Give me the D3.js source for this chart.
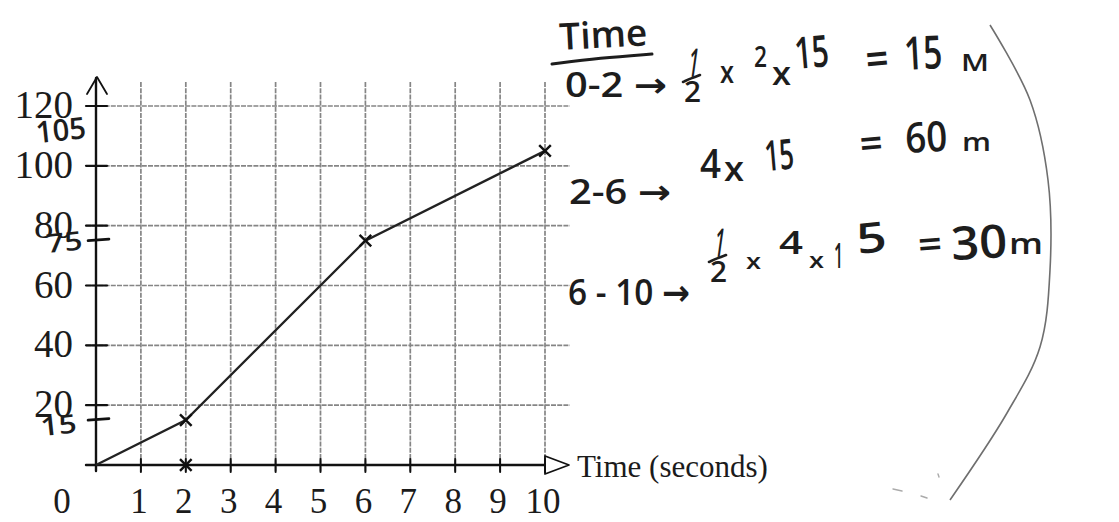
<!DOCTYPE html>
<html>
<head>
<meta charset="utf-8">
<script src="https://cdn.jsdelivr.net/npm/d3@7"></script>
<style>
  html, body { margin: 0; padding: 0; background: #ffffff; }
  svg { display: block; }
  .print { font-family: "Liberation Serif", "Times New Roman", serif; fill: #1b1b1b; }
  .hand  { font-family: "Open Sans", "DejaVu Sans", sans-serif; fill: #1d1d1d; font-weight: 600; }
</style>
</head>
<body>
<svg id="chart" width="1119" height="522"></svg>
<script>
// Distance–time graph: plotted points and axis ticks
const times = [0, 2, 6, 10];            // seconds
const distances = [0, 15, 75, 105];     // metres
const xTickValues = [0, 1, 2, 3, 4, 5, 6, 7, 8, 9, 10];
const yTickValues = [20, 40, 60, 80, 100, 120];
const markedDistances = [15, 75, 105];  // values written beside the y axis
const xAxisLabel = "Time (seconds)";

const svg = d3.select("#chart");

const x = d3.scaleLinear().domain([0, 10]).range([96, 545]);
const y = d3.scaleLinear().domain([0, 120]).range([465, 106]);

// ---- grid ----
const grid = svg.append("g").attr("stroke", "#858585").attr("stroke-width", 1.7)
  .attr("stroke-dasharray", "5 1.2").attr("fill", "none");
grid.selectAll("line.v").data(xTickValues.filter(d => d > 0)).join("line")
  .attr("class", "v")
  .attr("x1", d => x(d)).attr("x2", d => x(d))
  .attr("y1", 82).attr("y2", y(0) + 6);
grid.selectAll("line.h").data(yTickValues).join("line")
  .attr("class", "h")
  .attr("x1", 86).attr("x2", 570)
  .attr("y1", d => y(d)).attr("y2", d => y(d));

// ---- axes ----
const ax = svg.append("g").attr("stroke", "#111").attr("fill", "none")
  .attr("stroke-linecap", "round").attr("stroke-linejoin", "round");
// y axis with open arrow at the top
ax.append("line").attr("x1", x(0)).attr("x2", x(0)).attr("y1", y(0) + 6).attr("y2", 78)
  .attr("stroke-width", 2.4);
ax.append("path").attr("d", d3.line()([[x(0) - 9, 94], [x(0) + 1, 77], [x(0) + 11, 94]]))
  .attr("stroke-width", 1.8);
// x axis with hollow triangle head
ax.append("line").attr("x1", 86).attr("x2", x(10)).attr("y1", y(0)).attr("y2", y(0))
  .attr("stroke-width", 2.4);
ax.append("path").attr("d", d3.line()([[x(10), y(0) - 9], [x(10) + 24, y(0)], [x(10), y(0) + 9]]) + "Z")
  .attr("stroke-width", 1.8).attr("fill", "#fff");

// tick marks
ax.selectAll("line.xt").data(xTickValues.filter(d => d > 0)).join("line")
  .attr("class", "xt").attr("stroke-width", 2)
  .attr("x1", d => x(d)).attr("x2", d => x(d))
  .attr("y1", y(0) - 6).attr("y2", y(0) + 7);
ax.selectAll("line.yt").data(yTickValues).join("line")
  .attr("class", "yt").attr("stroke-width", 2.2)
  .attr("x1", x(0) - 10).attr("x2", x(0) + 11)
  .attr("y1", d => y(d)).attr("y2", d => y(d));
ax.selectAll("line.mt").data(markedDistances.filter(d => d < 100)).join("line")
  .attr("class", "mt").attr("stroke-width", 2.6)
  .attr("x1", x(0) - 8).attr("x2", x(0) + 13)
  .attr("y1", d => y(d)).attr("y2", d => y(d) - 1.5);

// printed tick labels
svg.append("g").selectAll("text").data(yTickValues).join("text")
  .attr("class", "print").attr("font-size", 39)
  .attr("text-anchor", "end")
  .attr("x", 73).attr("y", d => y(d) + 12)
  .text(d => d);
svg.append("g").selectAll("text").data(xTickValues).join("text")
  .attr("class", "print").attr("font-size", 35)
  .attr("text-anchor", "middle")
  .attr("x", d => d === 0 ? 62 : x(d) - 2).attr("y", 513)
  .text(d => d);
svg.append("text").attr("class", "print").attr("font-size", 31)
  .attr("x", 577).attr("y", y(0) + 12).text(xAxisLabel);

// ---- distance line and markers ----
const pts = times.map((t, i) => [x(t), y(distances[i])]);
svg.append("path").attr("d", d3.line()(pts))
  .attr("fill", "none").attr("stroke", "#222").attr("stroke-width", 2.3);

const crossShape = d3.symbol().type(d3.symbolTimes || d3.symbolX).size(90);
const markers = times.map((t, i) => ({ t, d: distances[i] })).filter(p => p.t > 0);
markers.push({ t: times[1], d: 0 });
svg.append("g").selectAll("path").data(markers).join("path")
  .attr("d", crossShape)
  .attr("transform", p => `translate(${x(p.t)},${y(p.d)})`)
  .attr("fill", "none").attr("stroke", "#111").attr("stroke-width", 2.4);

// handwritten values beside the y axis
const handOffset = { 15: 14, 75: 11, 105: -10 };
svg.append("g").selectAll("text").data(markedDistances).join("text")
  .attr("class", "hand").attr("font-size", d => d === 105 ? 30 : 26)
  .attr("font-weight", 700)
  .attr("x", d => d === 105 ? 38 : (d === 75 ? 46 : 40))
  .attr("y", d => y(d) + handOffset[d])
  .attr("textLength", d => d === 105 ? 50 : 36)
  .attr("lengthAdjust", "spacingAndGlyphs")
  .attr("transform", d => `rotate(-6 ${60} ${y(d)})`)
  .text(d => d);

// ---- worked areas under the graph, written on the right ----
const notes = svg.append("g");
function hw(str, x0, base, size, len, rot = 0) {
  notes.append("text").attr("class", "hand")
    .attr("font-size", size)
    .attr("x", x0).attr("y", base)
    .attr("textLength", len).attr("lengthAdjust", "spacingAndGlyphs")
    .attr("transform", rot ? `rotate(${rot} ${x0} ${base})` : null)
    .text(str);
}
function stroke(points, w = 2.4, col = "#1d1d1d") {
  notes.append("path").attr("d", d3.line().curve(d3.curveBasis)(points))
    .attr("fill", "none").attr("stroke", col).attr("stroke-width", w)
    .attr("stroke-linecap", "round");
}
function half(cx, top) {
  hw("1", cx - 5, top + 30, 40, 10, 8);
  stroke([[cx - 9, top + 36], [cx, top + 32], [cx + 8, top + 29]], 2.6);
  hw("2", cx - 8, top + 56, 28, 17);
}

hw("Time", 560, 50, 37, 88, -3);
stroke([[552, 64], [600, 58], [652, 54]], 3);

// 0–2 s
hw("0-2 →", 565, 97, 34, 102);
half(692, 46);
hw("x", 720, 83, 30, 14);
hw("2", 754, 67, 28, 13);
hw("x", 772, 85, 32, 19);
hw("15", 796, 69, 44, 34, -5);
hw("=", 867, 76, 46, 23, -5);
hw("15", 905, 70, 46, 38, -3);
hw("M", 961, 71, 24, 28);

// 2–6 s
hw("2-6 →", 569, 204, 34, 102);
hw("4", 700, 178, 40, 21);
hw("x", 724, 181, 34, 20);
hw("15", 766, 171, 42, 29, -5);
hw("=", 861, 159, 42, 23, -5);
hw("60", 906, 153, 42, 42, -3);
hw("m", 962, 151, 26, 29);

// 6–10 s
half(718, 226);
hw("x", 746, 269, 22, 15);
hw("4", 779, 254, 33, 24);
hw("x", 809, 268, 22, 15);
hw("1", 834, 268, 34, 9);
hw("5", 858, 254, 42, 30, -6);
hw("=", 919, 259, 40, 24, -4);
hw("30", 952, 260, 46, 56, -3);
hw("m", 1009, 254, 28, 34);
hw("6 - 10 →", 568, 305, 36, 122);

// bracket drawn round the working
notes.append("path")
  .attr("d", d3.line().curve(d3.curveCatmullRom)([[990, 25], [1030, 100], [1048, 180], [1050, 270], [1040, 347], [1007, 413], [950, 500]]))
  .attr("fill", "none").attr("stroke", "#6f6f6f").attr("stroke-width", 1.6);
stroke([[893, 489], [902, 491]], 1.4, "#aaa");
stroke([[921, 496], [927, 498]], 1.4, "#aaa");
stroke([[938, 474], [939, 477]], 1.4, "#aaa");
</script>
</body>
</html>
